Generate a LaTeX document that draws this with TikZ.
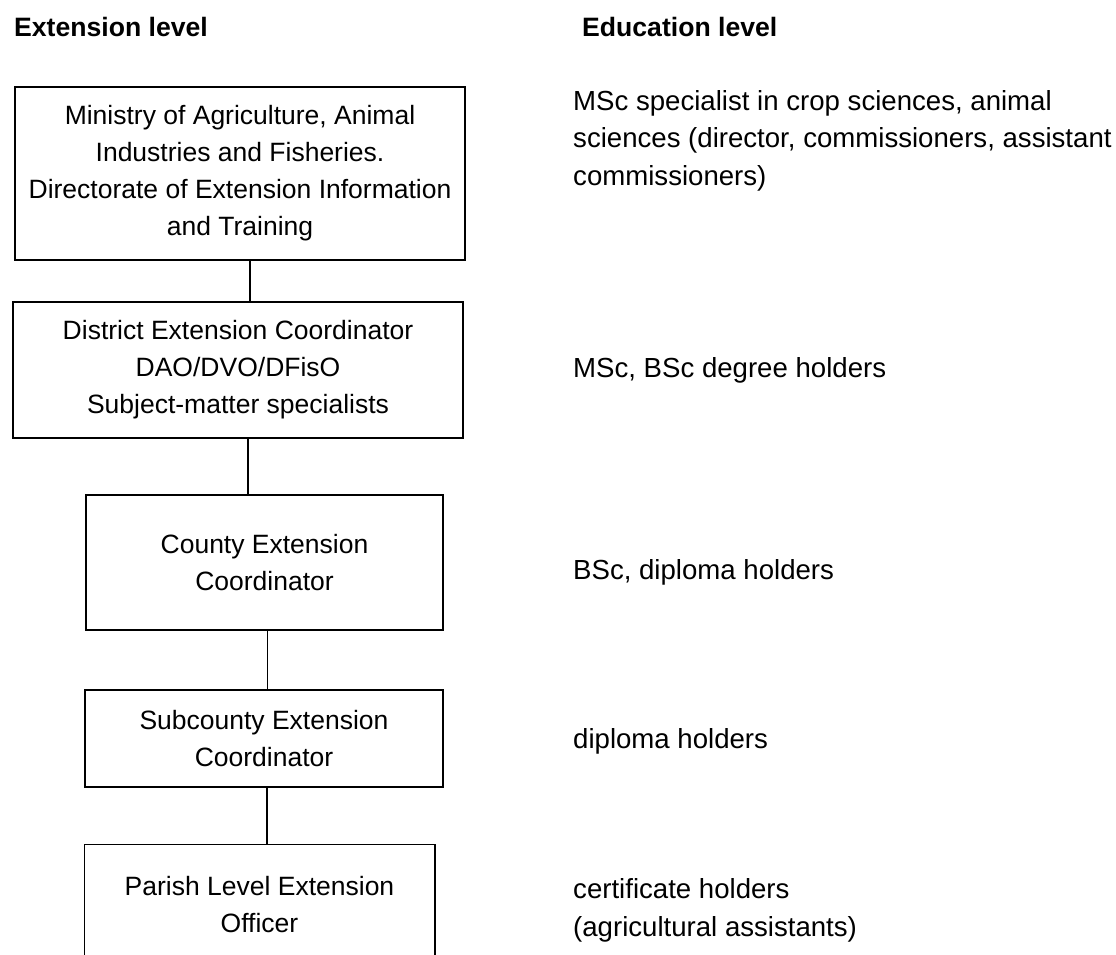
\documentclass[tikz,border=0pt]{standalone}
\usepackage{fontspec}
\setmainfont{Liberation Sans}

\begin{document}
\begin{tikzpicture}[x=1pt,y=-1pt,
  lvlbox/.style={draw,line width=1.5pt,inner sep=0pt,align=center,font=\fontsize{26.5}{37}\selectfont},
  edutext/.style={anchor=west,inner sep=0pt,align=left,font=\fontsize{27.6}{37.5}\selectfont},
  header/.style={anchor=west,inner sep=0pt,font=\fontsize{26.6}{32}\selectfont\bfseries},
  link/.style={line width=1.5pt}]
\useasboundingbox (0,0) rectangle (1116,955);
\coordinate (bottom) at (0,955);
\node[header] (exthead) at (14,27) {Extension level};
\node[header] (eduhead) at (582,27) {Education level};
\node[lvlbox,minimum width=450pt,minimum height=173pt] (ministry) at (240,173.5)
  {Ministry of Agriculture, Animal\\Industries and Fisheries.\\Directorate of Extension Information\\and Training};
\node[lvlbox,minimum width=450pt,minimum height=136pt] (district) at (238,370)
  {District Extension Coordinator\\DAO/DVO/DFisO\\Subject-matter specialists};
\node[lvlbox,minimum width=357pt,minimum height=135pt] (county) at (264.5,562.5)
  {County Extension\\Coordinator};
\node[lvlbox,minimum width=358pt,minimum height=97pt] (subcounty) at (264,738.5)
  {Subcounty Extension\\Coordinator};
\node[lvlbox,draw=none,minimum width=349pt,minimum height=119pt] (parish) at (259.5,904.5)
  {Parish Level Extension\\Officer};
\draw[link] (parish.west |- bottom) -- (parish.north west) -- (parish.north east) -- (parish.east |- bottom);
\draw[link] ([xshift=10pt]ministry.south) -- ([xshift=10pt]ministry.south |- district.north);
\draw[link] ([xshift=10pt]district.south) -- ([xshift=10pt]district.south |- county.north);
\draw[link] ([xshift=3pt]county.south) -- ([xshift=3pt]county.south |- subcounty.north);
\draw[link] ([xshift=3pt]subcounty.south) -- ([xshift=3pt]subcounty.south |- parish.north);
\node[edutext] (edu1) at (573,140.5)
  {MSc specialist in crop sciences, animal\\sciences (director, commissioners, assistant\\commissioners)};
\node[edutext] (edu2) at (573,370) {MSc, BSc degree holders};
\node[edutext] (edu3) at (573,572) {BSc, diploma holders};
\node[edutext] (edu4) at (573,741) {diploma holders};
\node[edutext] (edu5) at (573,910.5) {certificate holders\\(agricultural assistants)};
\end{tikzpicture}
\end{document}
